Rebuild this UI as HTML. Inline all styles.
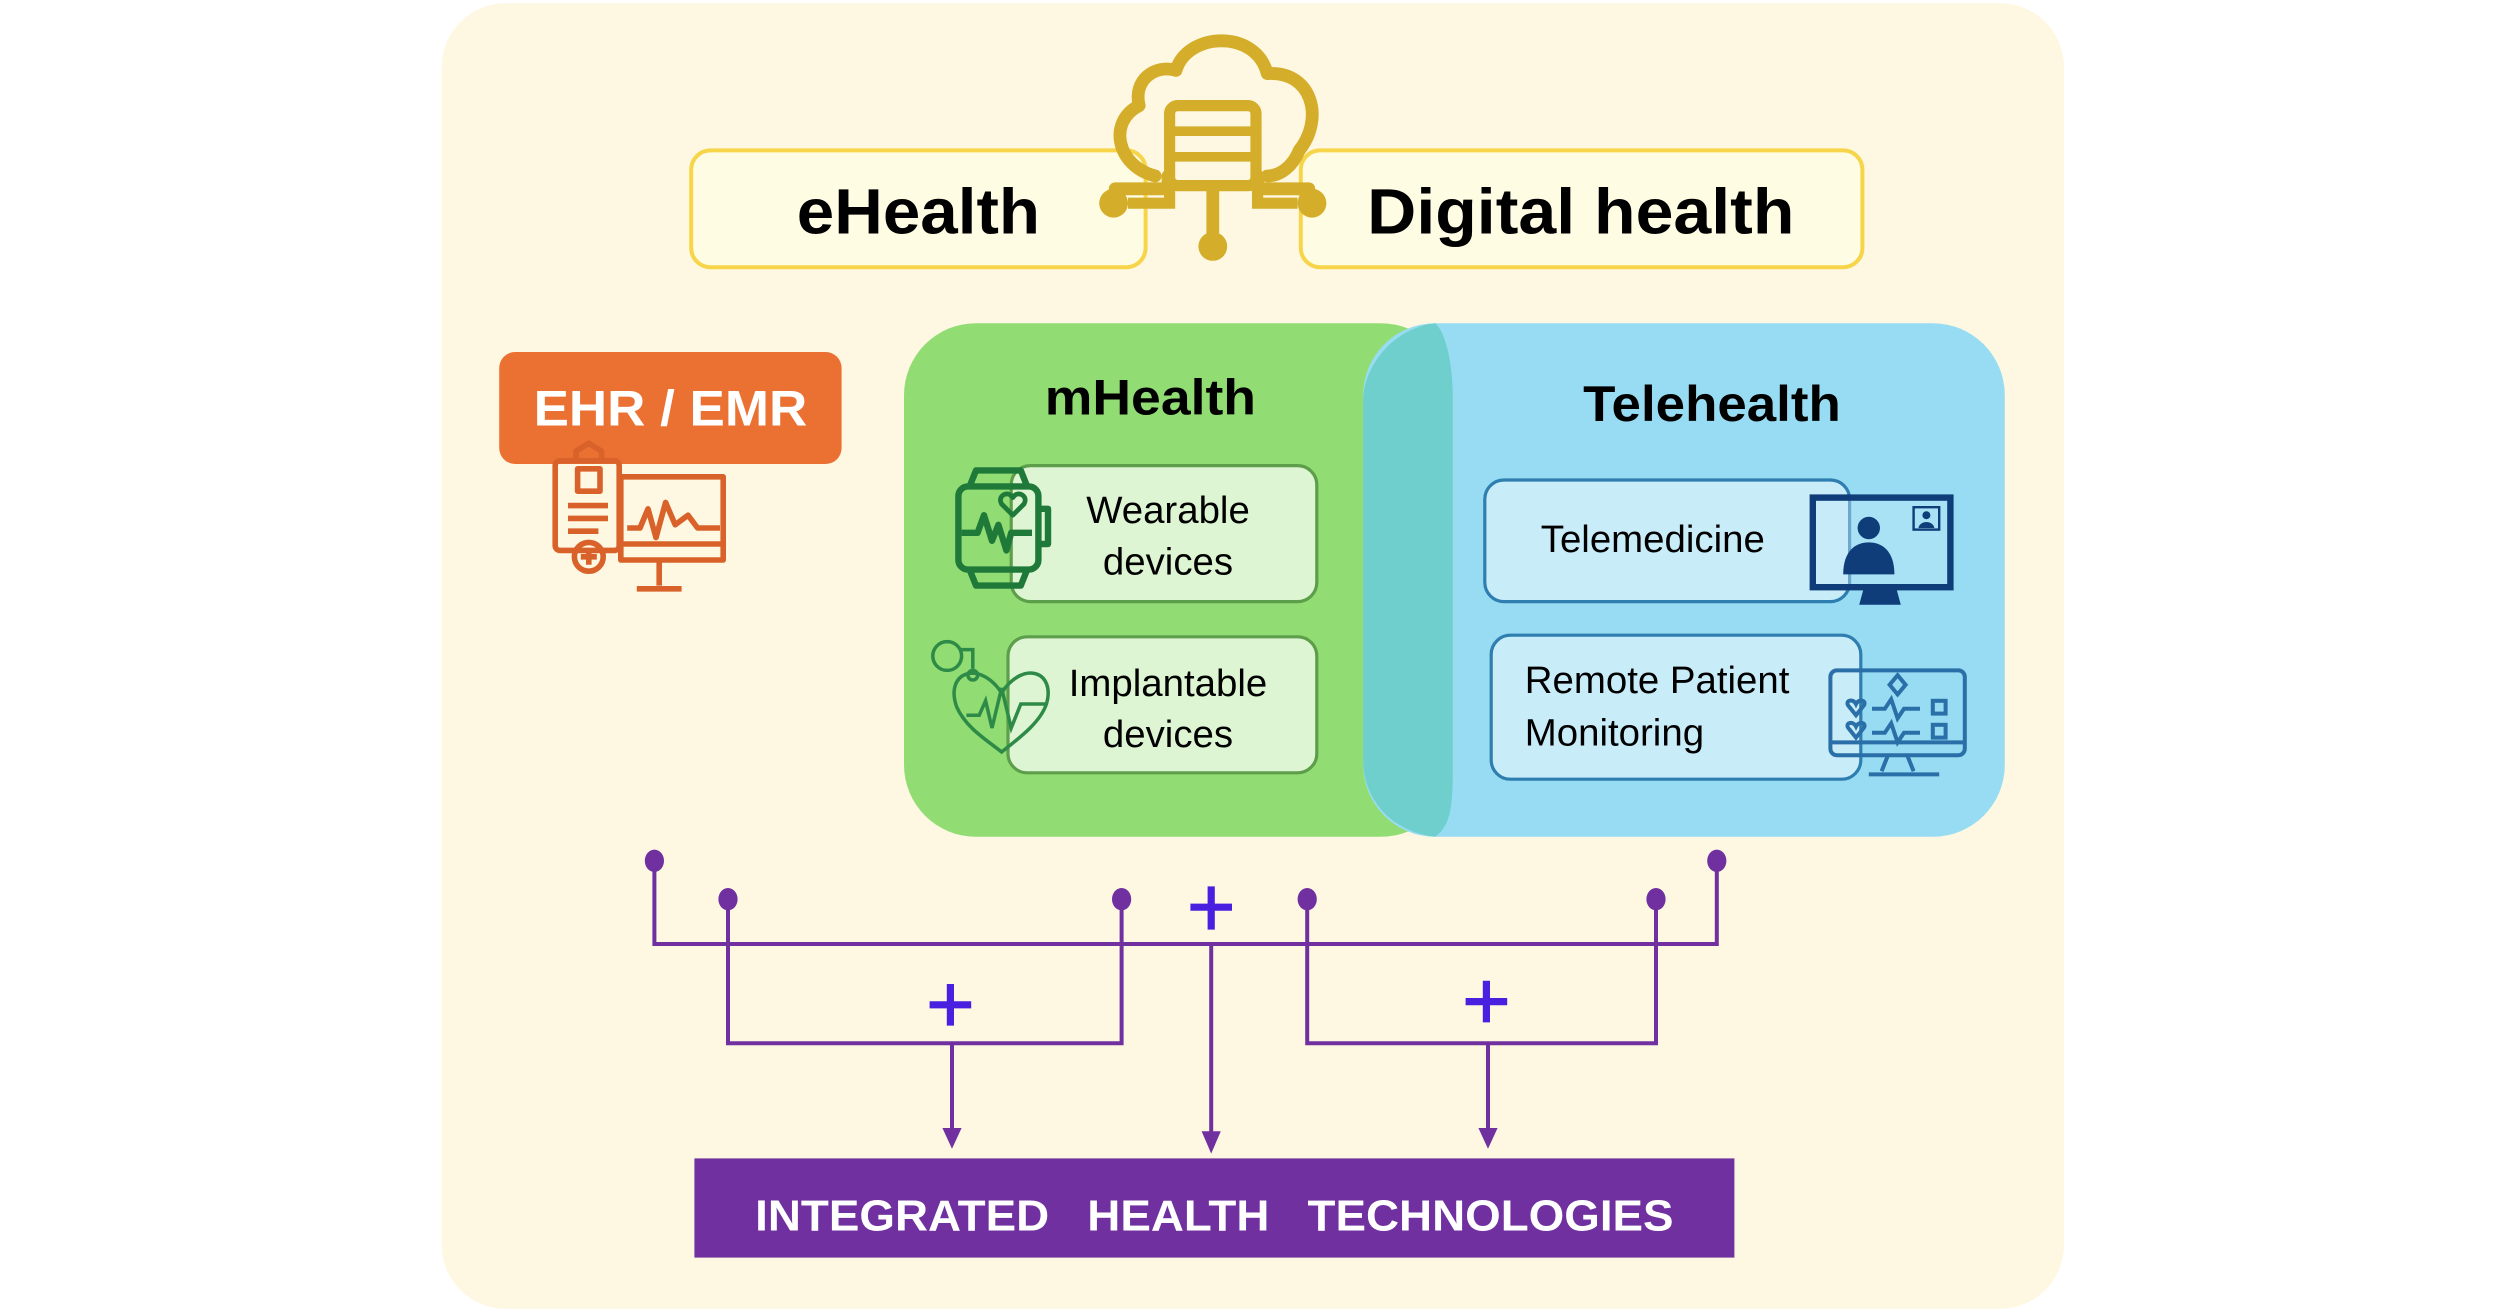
<!DOCTYPE html>
<html><head><meta charset="utf-8"><style>
html,body{margin:0;padding:0;background:#fff;}
svg{display:block;}
text{font-family:"Liberation Sans",Arial,sans-serif;}
</style></head><body>
<svg width="2500" height="1309" viewBox="0 0 1562.5 818.125" xmlns="http://www.w3.org/2000/svg">
<rect x="276" y="2" width="1014" height="816" rx="40" fill="#FEF8E2"/>

<!-- top boxes -->
<rect x="432" y="94" width="284" height="73" rx="12" fill="#FFFCE4" stroke="#F7D54A" stroke-width="2.5"/>
<rect x="813" y="94" width="351" height="73" rx="12" fill="#FFFCE4" stroke="#F7D54A" stroke-width="2.5"/>
<text x="574" y="146" font-size="40" font-weight="bold" text-anchor="middle" textLength="152" lengthAdjust="spacingAndGlyphs">eHealth</text>
<text x="988" y="146" font-size="40" font-weight="bold" text-anchor="middle" textLength="267" lengthAdjust="spacingAndGlyphs">Digital health</text>

<!-- cloud icon -->
<g fill="none" stroke="#D4AE2A" stroke-width="8" stroke-linecap="round" stroke-linejoin="round">
<path d="M722 110 C698 104 692 76 712 66 C708 50 722 40 735 44 C742 20 785 18 792 46 C820 44 828 74 812 94 C808 104 800 110 792 110"/>
<path d="M730 118 H697 M786 118 H818 M758 116 V154 M730 110 V118 M786 110 V118"/>
</g>
<rect x="731" y="66" width="54" height="50" rx="5" fill="#FEF8E2" stroke="#D4AE2A" stroke-width="7"/>
<line x1="731" y1="82" x2="785" y2="82" stroke="#D4AE2A" stroke-width="6"/>
<line x1="731" y1="98" x2="785" y2="98" stroke="#D4AE2A" stroke-width="6"/>
<circle cx="696" cy="127" r="9" fill="#D4AE2A"/>
<circle cx="820" cy="127" r="9" fill="#D4AE2A"/>
<circle cx="758" cy="154" r="9" fill="#D4AE2A"/>
<path d="M705 127 H731 V114 M811 127 H786 V114" fill="none" stroke="#D4AE2A" stroke-width="7"/>

<!-- EHR -->
<rect x="312" y="220" width="214" height="70" rx="10" fill="#EB7133"/>
<text x="419" y="266" font-size="31" font-weight="bold" fill="#fff" text-anchor="middle" textLength="171" lengthAdjust="spacingAndGlyphs">EHR / EMR</text>
<g fill="none" stroke="#D9622A" stroke-width="3.5" stroke-linejoin="round">
<rect x="347" y="288" width="40" height="56" rx="3"/>
<path d="M360 288 V282 L368 277 L376 282 V288"/>
<rect x="361" y="293" width="14" height="14"/>
<path d="M355 316 H380 M355 324 H380 M355 332 H374"/>
<rect x="388" y="298" width="64" height="52"/>
<path d="M388 340 H452 M412 350 V366 M398 368 H426"/>
<path d="M392 330 L400 330 L405 318 L410 336 L416 314 L422 328 L430 322 L436 330 L450 330"/>
<circle cx="368" cy="348" r="9"/>
<path d="M368 343 V353 M363 348 H373"/>
</g>

<!-- mHealth / telehealth -->
<rect x="565" y="202" width="343" height="321" rx="45" fill="#92DC74"/>
<rect x="852" y="202" width="401" height="321" rx="45" fill="#97DCF2"/>
<path d="M897 202 C870 205 852 230 852 250 V475 C852 500 870 520 897 523 C908 515 908 500 908 475 V250 C908 225 903 207 897 202Z" fill="#6ECFCC"/>
<text x="719" y="259" font-size="31" font-weight="bold" text-anchor="middle" textLength="132" lengthAdjust="spacingAndGlyphs">mHealth</text>
<text x="1070" y="263" font-size="31" font-weight="bold" text-anchor="middle" textLength="161" lengthAdjust="spacingAndGlyphs">Telehealth</text>

<rect x="632" y="291" width="191" height="85" rx="12" fill="#DDF5D2" stroke="#5D9E4B" stroke-width="2"/>
<rect x="630" y="398" width="193" height="85" rx="12" fill="#DDF5D2" stroke="#5D9E4B" stroke-width="2"/>
<text x="730" y="327" font-size="24" text-anchor="middle">Wearable</text>
<text x="730" y="359" font-size="24" text-anchor="middle">devices</text>
<text x="730" y="435" font-size="24" text-anchor="middle">Implantable</text>
<text x="730" y="467" font-size="24" text-anchor="middle">devices</text>

<g fill="none" stroke="#1F7A3A" stroke-width="4" stroke-linejoin="round">
<rect x="599" y="304" width="50" height="52" rx="6"/>
<path d="M606 304 L610 294 H638 L642 304 M606 356 L610 366 H638 L642 356"/>
<path d="M650 318 H655 V340 H650"/>
<path d="M601 333 H611 L615 322 L620 338 L624 328 L629 344 L632 333 H645"/>
<path d="M633 322 L626 315 C623 310 630 306 633 311 C636 306 643 310 640 315Z" stroke-width="3"/>
</g>
<g fill="none" stroke="#2E8B47" stroke-width="2.2">
<circle cx="592" cy="410" r="9"/>
<path d="M600 406 H608 V418"/>
<path d="M626 433 C612 412 590 420 598 442 C604 455 616 462 626 470 C636 462 650 452 654 440 C660 420 640 412 626 433Z"/>
<circle cx="608" cy="422" r="3"/>
<path d="M604 447 H612 L616 438 L620 455 L626 430 L632 455 L638 440 L654 440"/>
</g>

<rect x="928" y="300" width="228" height="76" rx="12" fill="#C9ECF9" stroke="#2F7EB0" stroke-width="2"/>
<rect x="932" y="397" width="231" height="90" rx="12" fill="#C9ECF9" stroke="#2F7EB0" stroke-width="2"/>
<text x="1033" y="345" font-size="24" text-anchor="middle">Telemedicine</text>
<text x="953" y="433" font-size="24">Remote Patient</text>
<text x="953" y="466" font-size="24">Monitoring</text>

<g>
<rect x="1133" y="311" width="86" height="56" fill="#C9ECF9" fill-opacity="0.4" stroke="#0E3D7A" stroke-width="4"/>
<path d="M1165 367 H1185 L1188 378 H1162Z" fill="#0E3D7A"/>
<circle cx="1168" cy="330" r="7" fill="#0E3D7A"/>
<path d="M1152 359 C1152 344 1160 339 1168 339 C1176 339 1184 344 1184 359Z" fill="#0E3D7A"/>
<rect x="1196" y="317" width="16" height="14" fill="none" stroke="#0E3D7A" stroke-width="1.5"/>
<circle cx="1204" cy="322" r="2.5" fill="#0E3D7A"/><path d="M1199 330 C1200 325 1208 325 1209 330Z" fill="#0E3D7A"/>
</g>
<g fill="none" stroke="#2A6FA8" stroke-width="2.5">
<rect x="1144" y="419" width="84" height="53" rx="4"/>
<path d="M1144 464 H1228 M1180 472 L1176 482 M1192 472 L1196 482 M1168 484 H1212"/>
<path d="M1186 422 L1191 428 L1186 434 L1181 428Z"/>
<path d="M1170 443 H1178 L1182 437 L1186 449 L1190 443 H1200 M1170 458 H1178 L1182 452 L1186 464 L1190 458 H1200"/>
<rect x="1208" y="438" width="8" height="8"/><rect x="1208" y="453" width="8" height="8"/>
<path d="M1156 442 C1152 438 1158 436 1160 440 C1162 436 1168 438 1164 442 L1160 447Z M1156 456 C1152 452 1158 450 1160 454 C1162 450 1168 452 1164 456 L1160 461Z"/>
</g>

<!-- connectors -->
<g fill="none" stroke="#7030A0" stroke-width="2.5">
<path d="M409 538 V590 H1073 V538"/>
<path d="M455 562 V652 H701 V562"/>
<path d="M817 562 V652 H1035 V562"/>
<path d="M595 652 V710 M757 590 V712 M930 652 V710"/>
</g>
<g fill="#7030A0">
<ellipse cx="409" cy="538" rx="6" ry="7"/><ellipse cx="1073" cy="538" rx="6" ry="7"/>
<ellipse cx="455" cy="562" rx="6" ry="7"/><ellipse cx="701" cy="562" rx="6" ry="7"/>
<ellipse cx="817" cy="562" rx="6" ry="7"/><ellipse cx="1035" cy="562" rx="6" ry="7"/>
<path d="M589 705 H601 L595 718Z M751 707 H763 L757 721Z M924 705 H936 L930 718Z"/>
</g>
<g stroke="#4A20E0" stroke-width="4.5">
<path d="M757 554 V581 M744 567 H770"/>
<path d="M594 615 V641 M581 628 H607"/>
<path d="M929 613 V639 M916 626 H942"/>
</g>

<rect x="434" y="724" width="650" height="62" fill="#7030A0"/>
<text x="759" y="769" font-size="27" font-weight="bold" fill="#fff" text-anchor="middle" textLength="574" lengthAdjust="spacingAndGlyphs" xml:space="preserve">INTEGRATED   HEALTH   TECHNOLOGIES</text>
</svg>
</body></html>
